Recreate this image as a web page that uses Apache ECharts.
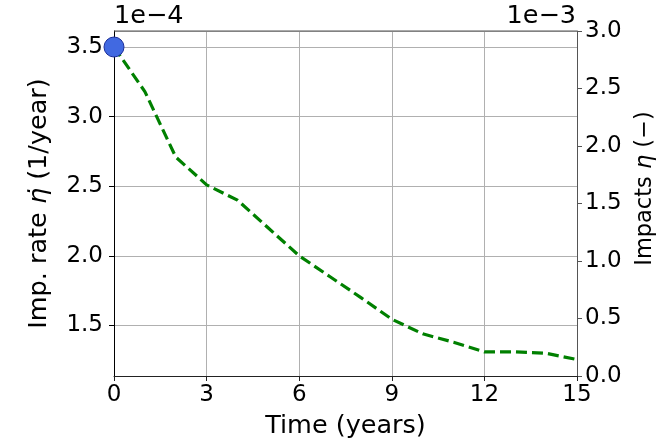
<!DOCTYPE html>
<html>
<head>
<meta charset="utf-8">
<script src="https://cdn.jsdelivr.net/npm/echarts@6/dist/echarts.min.js"></script>
<style>
  html, body { margin: 0; padding: 0; background: #fff; }
  #chart { width: 667px; height: 445px; }
</style>
</head>
<body>
<div id="chart"></div>
<script>
// Time axis (years)
const years = [0, 1, 2, 3, 4, 5, 6, 7, 8, 9, 10, 11, 12, 13, 14, 15];
// Impact rate (1/year)
const impactRate = [3.50e-4, 3.18e-4, 2.71e-4, 2.51e-4, 2.40e-4, 2.20e-4, 2.00e-4, 1.85e-4,
                    1.70e-4, 1.545e-4, 1.44e-4, 1.38e-4, 1.31e-4, 1.31e-4, 1.30e-4, 1.255e-4];
// Highlighted starting point
const markerTime = [0];
const markerRate = [3.5e-4];
// Axis scaling factors shown as offset text
const rateScale = 1e-4;
const impactScale = 1e-3;

const FONT = 'DejaVu Sans';
const FS_TICK = 23;
const FS_NAME = 25.5;
const FS_NAME_R = 22.5;

const chart = echarts.init(document.getElementById('chart'), null, { renderer: 'canvas' });

chart.setOption({
  animation: false,
  backgroundColor: '#ffffff',
  textStyle: { fontFamily: FONT },
  grid: { left: 114, right: 90, top: 31, bottom: 69, containLabel: false },
  xAxis: {
    type: 'value',
    min: 0, max: 15, interval: 3,
    name: 'Time (years)',
    nameLocation: 'middle',
    nameGap: 37,
    nameTextStyle: { fontFamily: FONT, fontSize: FS_NAME, color: '#000' },
    axisLine: { show: true, onZero: false, lineStyle: { color: '#222', width: 1 } },
    axisTick: { show: true, inside: false, length: 5, lineStyle: { color: '#222' } },
    axisLabel: { fontFamily: FONT, fontSize: FS_TICK, color: '#000', margin: 8 },
    splitLine: { show: true, lineStyle: { color: '#b0b0b0', width: 1 } }
  },
  yAxis: [
    {
      type: 'value',
      position: 'left',
      min: 1.137e-4, max: 3.615e-4,
      splitNumber: 5,
      name: '{n|Imp. rate }{i|η̇}{n| (1/year)}',
      nameLocation: 'middle',
      nameGap: 62,
      nameRotate: 90,
      nameTextStyle: {
        fontFamily: FONT, fontSize: FS_NAME, color: '#000',
        rich: {
          n: { fontFamily: FONT, fontSize: FS_NAME, color: '#000' },
          i: { fontFamily: FONT, fontSize: FS_NAME, color: '#000', fontStyle: 'italic' }
        }
      },
      axisLine: { show: true, onZero: false, lineStyle: { color: '#000', width: 1 } },
      axisTick: { show: true, inside: false, length: 5, lineStyle: { color: '#000' } },
      axisLabel: {
        fontFamily: FONT, fontSize: FS_TICK, color: '#000', margin: 11,
        showMinLabel: false, showMaxLabel: false,
        formatter: v => (v / rateScale).toFixed(1)
      },
      splitLine: { show: true, lineStyle: { color: '#b0b0b0', width: 1 } }
    },
    {
      type: 'value',
      position: 'right',
      min: 0, max: 3e-3, interval: 0.5e-3,
      name: '{n|Impacts }{i|η}{n| (−)}',
      nameLocation: 'middle',
      nameGap: 57,
      nameRotate: 90,
      nameTextStyle: {
        fontFamily: FONT, fontSize: FS_NAME_R, color: '#000',
        padding: [0, 0, 0, 30],
        rich: {
          n: { fontFamily: FONT, fontSize: FS_NAME_R, color: '#000' },
          i: { fontFamily: FONT, fontSize: FS_NAME_R, color: '#000', fontStyle: 'italic' }
        }
      },
      axisLine: { show: true, onZero: false, lineStyle: { color: '#555', width: 1 } },
      axisTick: { show: true, inside: false, length: 5, lineStyle: { color: '#555' } },
      axisLabel: {
        fontFamily: FONT, fontSize: FS_TICK, color: '#000', margin: 8,
        formatter: v => (v / impactScale).toFixed(1)
      },
      splitLine: { show: false }
    }
  ],
  graphic: [
    // top frame line
    { type: 'line', shape: { x1: 114, y1: 31, x2: 577, y2: 31 }, style: { stroke: '#555', lineWidth: 1 }, z: 5 },
    { type: 'text', left: 114, top: 3, style: { text: '1e−4', font: FS_NAME + 'px "' + FONT + '"', fill: '#000' } },
    { type: 'text', right: 91, top: 3, style: { text: '1e−3', font: FS_NAME + 'px "' + FONT + '"', fill: '#000' } }
  ],
  series: [
    {
      name: 'Imp. rate',
      type: 'line',
      yAxisIndex: 0,
      data: years.map((t, i) => [t, impactRate[i]]),
      showSymbol: false,
      smooth: false,
      lineStyle: { color: '#008000', width: 3.2, type: [11, 5] },
      z: 3
    },
    {
      name: 'Start',
      type: 'scatter',
      yAxisIndex: 0,
      data: markerTime.map((t, i) => [t, markerRate[i]]),
      symbol: 'circle',
      symbolSize: 20,
      clip: false,
      itemStyle: { color: '#4169e1', borderColor: '#1c2f99', borderWidth: 1, opacity: 1 },
      z: 10
    }
  ]
});
</script>
</body>
</html>
